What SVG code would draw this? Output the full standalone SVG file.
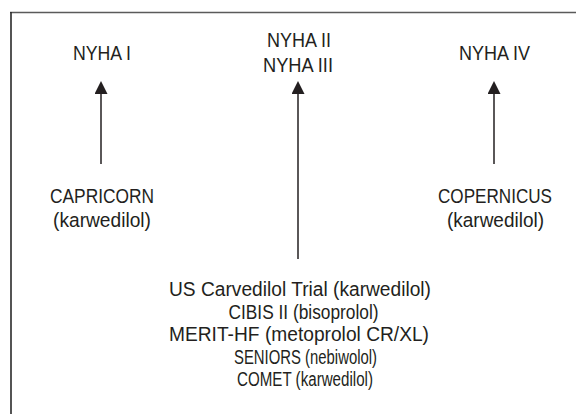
<svg xmlns="http://www.w3.org/2000/svg" width="578" height="414" viewBox="0 0 578 414">
  <style>
    text { font-family: "Liberation Sans", Arial, sans-serif; font-size: 20.5px; fill: #231f20; text-anchor: middle; }
    .sm { font-size: 19.5px; }
    .conn { stroke: #231f20; stroke-width: 1.5; fill: none; marker-end: url(#arrow); }
  </style>
  <defs>
    <marker id="arrow" markerUnits="userSpaceOnUse" markerWidth="13" markerHeight="13" refX="0" refY="0" viewBox="0 -6.5 13 13" orient="auto">
      <path d="M0,-6.5 L13,0 L0,6.5 Z" fill="#231f20"/>
    </marker>
  </defs>
  <rect width="578" height="414" fill="#ffffff"/>
  <g id="frame">
    <line x1="10" y1="12.5" x2="576" y2="12.5" stroke="#5a5a5a" stroke-width="1.6"/>
    <line x1="11" y1="12" x2="11" y2="414" stroke="#2a2a2a" stroke-width="1.6"/>
  </g>
  <g id="connectors">
    <line class="conn" x1="101" y1="164" x2="101" y2="94"/>
    <line class="conn" x1="298" y1="259" x2="298" y2="94"/>
    <line class="conn" x1="494" y1="164" x2="494" y2="94"/>
  </g>
  <g id="nyha1">
    <text x="102" y="60" textLength="58" lengthAdjust="spacingAndGlyphs">NYHA I</text>
  </g>
  <g id="nyha23">
    <text x="299" y="47" textLength="64" lengthAdjust="spacingAndGlyphs">NYHA II</text>
    <text x="298" y="72" textLength="70" lengthAdjust="spacingAndGlyphs">NYHA III</text>
  </g>
  <g id="nyha4">
    <text x="494.5" y="60" textLength="71" lengthAdjust="spacingAndGlyphs">NYHA IV</text>
  </g>
  <g id="capricorn">
    <text x="102" y="203" textLength="104" lengthAdjust="spacingAndGlyphs">CAPRICORN</text>
    <text x="102" y="227" textLength="98" lengthAdjust="spacingAndGlyphs">(karwedilol)</text>
  </g>
  <g id="copernicus">
    <text x="495" y="203" textLength="114" lengthAdjust="spacingAndGlyphs">COPERNICUS</text>
    <text x="495.5" y="227" textLength="97" lengthAdjust="spacingAndGlyphs">(karwedilol)</text>
  </g>
  <g id="trials">
    <text class="sm" x="300" y="296" textLength="262" lengthAdjust="spacingAndGlyphs">US Carvedilol Trial (karwedilol)</text>
    <text class="sm" x="303.5" y="318.5" textLength="150" lengthAdjust="spacingAndGlyphs">CIBIS II (bisoprolol)</text>
    <text class="sm" x="299" y="341" textLength="260" lengthAdjust="spacingAndGlyphs">MERIT-HF (metoprolol CR/XL)</text>
    <text class="sm" x="305.5" y="363.5" textLength="143" lengthAdjust="spacingAndGlyphs">SENIORS (nebiwolol)</text>
    <text class="sm" x="305" y="386" textLength="136" lengthAdjust="spacingAndGlyphs">COMET (karwedilol)</text>
  </g>
</svg>
